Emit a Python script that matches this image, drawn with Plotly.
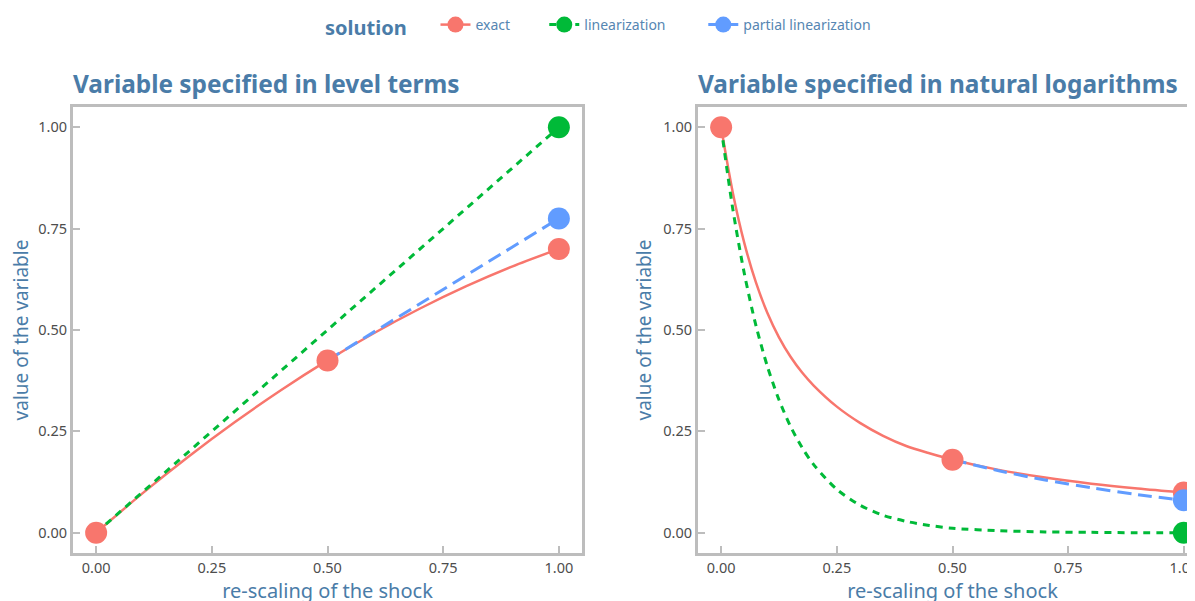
import plotly.graph_objects as go
from plotly.subplots import make_subplots

# values
shock = [0.0, 0.1, 0.2, 0.3, 0.4, 0.5, 0.6, 0.7, 0.8, 0.9, 1.0]
level_exact = [0.0, 0.097, 0.188, 0.273, 0.352, 0.425, 0.492, 0.553, 0.608, 0.657, 0.70]
level_lin_x = [0.0, 1.0]
level_lin = [0.0, 1.0]
level_partial_x = [0.5, 1.0]
level_partial = [0.425, 0.775]

log_x = [0.0, 0.025, 0.05, 0.075, 0.1, 0.125, 0.15, 0.175, 0.2, 0.25, 0.3, 0.35,
         0.4, 0.45, 0.5, 0.6, 0.7, 0.8, 0.9, 1.0]
log_exact = [1.0, 0.84, 0.715, 0.618, 0.542, 0.482, 0.434, 0.395, 0.363, 0.311, 0.271, 0.239,
             0.214, 0.196, 0.18, 0.155, 0.136, 0.121, 0.109, 0.099]
log_lin = [1.0, 0.80, 0.64, 0.512, 0.41, 0.328, 0.262, 0.21, 0.168, 0.107, 0.068, 0.043,
           0.028, 0.018, 0.011, 0.005, 0.002, 0.001, 0.0, 0.0]
log_partial_x = [0.5, 0.6, 0.7, 0.8, 0.9, 1.0]
log_partial = [0.18, 0.153, 0.130, 0.111, 0.094, 0.080]

# which points get a dot
level_dots = {"exact": ([0, 0.5, 1], [0.0, 0.425, 0.70]),
              "linearization": ([1], [1.0]),
              "partial linearization": ([1], [0.775])}
log_dots = {"exact": ([0, 0.5, 1], [1.0, 0.18, 0.099]),
            "linearization": ([1], [0.0]),
            "partial linearization": ([1], [0.080])}

colors = {"exact": "#F8766D", "linearization": "#00BA38", "partial linearization": "#619CFF"}
dashes = {"exact": "solid", "linearization": "7px,6px", "partial linearization": "14px,7px"}
widths = {"exact": 2.5, "linearization": 3, "partial linearization": 3}
# padding so the legend entries sit where the reference puts them
legend_pad = {"exact": 8, "linearization": 9, "partial linearization": 0}

title_blue = "#4a7ca8"
legend_blue = "#5686b2"
tick_grey = "#4d4d4d"
frame_grey = "#bdbdbd"
FONT = "Noto Sans"

# page body has an 8px margin, so everything is shifted 8px left/up here
W, H = 1212, 605
ml, mr, mt, mb = 65, 13, 99, 60
pw = W - ml - mr
ph = H - mt - mb

fig = make_subplots(rows=1, cols=2, horizontal_spacing=116 / pw)

panels = [
    (1, {"exact": (shock, level_exact), "linearization": (level_lin_x, level_lin),
         "partial linearization": (level_partial_x, level_partial)}, level_dots),
    (2, {"exact": (log_x, log_exact), "linearization": (log_x, log_lin),
         "partial linearization": (log_partial_x, log_partial)}, log_dots),
]

for col, lines, dots in panels:
    for name, (xs, ys) in lines.items():
        fig.add_trace(go.Scatter(x=xs, y=ys, mode="lines", showlegend=False,
                                 line=dict(color=colors[name], width=widths[name],
                                           dash=dashes[name], shape="spline",
                                           smoothing=0.8)),
                      row=1, col=col)
    for name, (xs, ys) in dots.items():
        fig.add_trace(go.Scatter(x=xs, y=ys, mode="markers", showlegend=False,
                                 cliponaxis=False,
                                 marker=dict(color=colors[name], size=22)),
                      row=1, col=col)

# legend entries
for name in ["exact", "linearization", "partial linearization"]:
    fig.add_trace(go.Scatter(x=[None], y=[None], mode="lines+markers",
                             name=name + "\u00a0" * legend_pad[name],
                             line=dict(color=colors[name], width=widths[name],
                                       dash=dashes[name]),
                             marker=dict(color=colors[name], size=18)),
                  row=1, col=1)

ticks = [0, 0.25, 0.5, 0.75, 1.0]
ticktext = ["0.00", "0.25", "0.50", "0.75", "1.00"]
axis_style = dict(range=[-0.05, 1.05], tickvals=ticks, ticktext=ticktext,
                  showgrid=False, zeroline=False, showline=True, mirror=True,
                  linecolor=frame_grey, linewidth=3, ticks="inside", ticklen=7,
                  tickwidth=2, tickcolor=frame_grey,
                  tickfont=dict(family=FONT, size=14.5, color=tick_grey))
for col in (1, 2):
    fig.update_xaxes(axis_style, row=1, col=col,
                     title=dict(text="re-scaling of the shock", standoff=8,
                                font=dict(family=FONT, size=20, color=title_blue)))
    fig.update_yaxes(axis_style, row=1, col=col,
                     title=dict(text="value of the variable", standoff=7,
                                font=dict(family=FONT, size=19, color=title_blue)))

titles = ["Variable specified in level terms", "Variable specified in natural logarithms"]
starts = [0, fig.layout.xaxis2.domain[0]]
for t, x0 in zip(titles, starts):
    fig.add_annotation(text="<b>%s</b>" % t, xref="paper", yref="paper", x=x0 - 0.002,
                       y=(ph + mt - 75) / ph, xanchor="left", yanchor="middle",
                       showarrow=False,
                       font=dict(family=FONT, size=24.4, color=title_blue))

fig.update_layout(
    width=W, height=H,
    margin=dict(l=ml, r=mr, t=mt, b=mb, autoexpand=False),
    plot_bgcolor="white", paper_bgcolor="white",
    legend=dict(orientation="h", xref="container", x=315 / W, xanchor="left",
                yref="container", y=1 - 19 / H, yanchor="middle",
                title=dict(text="<b>solution</b>" + "\u00a0" * 4,
                           font=dict(family=FONT, size=20, color=title_blue)),
                font=dict(family=FONT, size=14, color=legend_blue)),
)

fig.write_html("out.html")
